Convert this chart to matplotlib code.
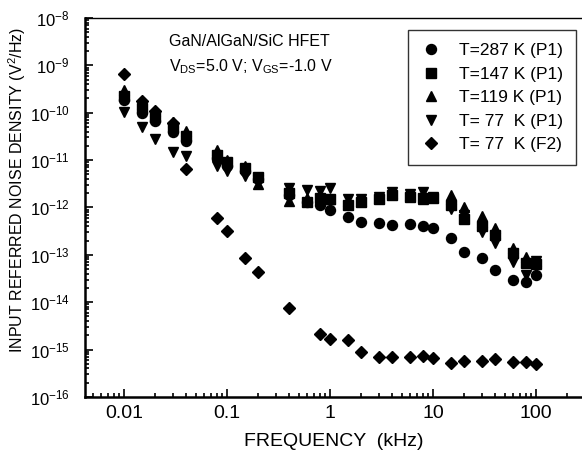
import matplotlib
matplotlib.use("Agg")
import matplotlib.pyplot as plt
from matplotlib.ticker import LogLocator, NullFormatter

plt.rcParams["font.family"] = ["Liberation Sans", "DejaVu Sans"]
plt.rcParams["mathtext.fontset"] = "custom"
plt.rcParams["mathtext.rm"] = "Liberation Sans"
plt.rcParams["mathtext.it"] = "Liberation Sans:italic"

# ─── DATA ───

FREQ_P1 = [0.01, 0.015, 0.02, 0.03, 0.04, 0.08, 0.1, 0.15, 0.2, 0.4, 0.6, 0.8, 1, 1.5, 2,
           3, 4, 6, 8, 10, 15, 20, 30, 40, 60, 80, 100]

T287_P1 = [1.9e-10, 1.0e-10, 6.7e-11, 4.0e-11, 2.5e-11, 1.1e-11, 7.5e-12, 5.9e-12, 4.0e-12,
           1.8e-12, 1.3e-12, 1.1e-12, 9.0e-13, 6.3e-13, 5.0e-13, 4.8e-13, 4.3e-13, 4.4e-13,
           4.0e-13, 3.6e-13, 2.3e-13, 1.15e-13, 8.7e-14, 4.8e-14, 3.0e-14, 2.6e-14, 3.7e-14]

T147_P1 = [2.3e-10, 1.25e-10, 8.2e-11, 5.0e-11, 3.2e-11, 1.3e-11, 9.0e-12, 6.9e-12, 4.5e-12,
           2.0e-12, 1.3e-12, 1.6e-12, 1.5e-12, 1.1e-12, 1.3e-12, 1.5e-12, 1.8e-12, 1.7e-12,
           1.6e-12, 1.6e-12, 1.1e-12, 5.8e-13, 4.1e-13, 2.6e-13, 1.1e-13, 6.8e-14, 6.3e-14]

T119_P1 = [3.0e-10, 1.5e-10, 1.1e-10, 6.4e-11, 4.1e-11, 1.6e-11, 1.0e-11, 7.5e-12, 3.2e-12,
           1.4e-12, 1.6e-12, 1.5e-12, 1.5e-12, 1.4e-12, 1.4e-12, 1.6e-12, 2.0e-12, 1.8e-12,
           1.5e-12, 1.7e-12, 1.8e-12, 1.0e-12, 6.6e-13, 3.6e-13, 1.4e-13, 9.0e-14, 7.5e-14]

T77_P1 = [1.05e-10, 5.0e-11, 2.8e-11, 1.5e-11, 1.2e-11, 7.6e-12, 5.9e-12, 4.7e-12, 3.8e-12,
          2.6e-12, 2.3e-12, 2.2e-12, 2.6e-12, 1.5e-12, 1.5e-12, 1.7e-12, 2.1e-12, 1.9e-12,
          2.1e-12, 1.7e-12, 9.3e-13, 7.0e-13, 3.1e-13, 1.8e-13, 7.0e-14, 3.8e-14, 7.5e-14]

FREQ_F2 = [0.01, 0.015, 0.02, 0.03, 0.04, 0.08, 0.1, 0.15, 0.2, 0.4, 0.8, 1, 1.5, 2, 3, 4,
           6, 8, 10, 15, 20, 30, 40, 60, 80, 100]

T77_F2 = [6.5e-10, 1.8e-10, 1.1e-10, 6.0e-11, 6.5e-12, 6.0e-13, 3.2e-13, 8.7e-14, 4.4e-14,
          7.6e-15, 2.1e-15, 1.7e-15, 1.55e-15, 8.9e-16, 7.1e-16, 7.0e-16, 6.8e-16, 7.2e-16,
          6.6e-16, 5.3e-16, 5.8e-16, 5.8e-16, 6.3e-16, 5.5e-16, 5.5e-16, 5.0e-16]

SERIES = [
    ("T=287 K (P1)", FREQ_P1, T287_P1, "o", 7.2),
    ("T=147 K (P1)", FREQ_P1, T147_P1, "s", 6.5),
    ("T=119 K (P1)", FREQ_P1, T119_P1, "^", 7.5),
    ("T= 77  K (P1)", FREQ_P1, T77_P1, "v", 7.5),
    ("T= 77  K (F2)", FREQ_F2, T77_F2, "D", 6.0),
]


# ─── FIGURE ───

fig = plt.figure(figsize=(5.82, 4.62), dpi=100)
ax = fig.add_axes([0.146, 0.141, 0.854, 0.820])

for label, freq, vals, marker, size in SERIES:
    ax.plot(freq, vals, linestyle="none", marker=marker, markersize=size,
            color="black", markeredgecolor="black", label=label)

ax.set_xscale("log")
ax.set_yscale("log")
ax.set_xlim(0.0042, 280)
ax.set_ylim(1e-16, 1e-8)

ax.set_xticks([0.01, 0.1, 1, 10, 100])
ax.set_xticklabels(["0.01", "0.1", "1", "10", "100"])
ax.xaxis.set_minor_locator(LogLocator(base=10, subs=range(2, 10), numticks=20))
ax.xaxis.set_minor_formatter(NullFormatter())
ax.yaxis.set_major_locator(LogLocator(base=10, numticks=20))
ax.yaxis.set_minor_locator(LogLocator(base=10, subs=range(2, 10), numticks=20))
ax.yaxis.set_minor_formatter(NullFormatter())

ax.tick_params(which="both", direction="in", top=False, right=False, width=1.2)
ax.tick_params(which="major", length=6)
ax.tick_params(which="minor", length=3)
ax.tick_params(axis="x", which="major", labelsize=14, pad=6)
ax.tick_params(axis="y", which="major", labelsize=12, pad=11)

for side in ["left", "bottom"]:
    ax.spines[side].set_linewidth(1.8)
ax.spines["top"].set_linewidth(1.0)
ax.spines["right"].set_visible(False)

ax.set_xlabel("FREQUENCY  (kHz)", fontsize=14, labelpad=8)
ax.set_ylabel("INPUT REFERRED NOISE DENSITY (V$^2$/Hz)", fontsize=11.5)
ax.yaxis.set_label_coords(-0.115, 0.546)

ax.text(0.17, 0.925, "GaN/AlGaN/SiC HFET", transform=ax.transAxes, fontsize=11.5)
ax.text(0.17, 0.86, "V$_{\\mathrm{DS}}$=5.0 V; V$_{\\mathrm{GS}}$=-1.0 V",
        transform=ax.transAxes, fontsize=11.5)

leg = ax.legend(loc="upper right", bbox_to_anchor=(0.988, 0.968), borderaxespad=0,
                fontsize=12.5, frameon=True, fancybox=False, handletextpad=1.0,
                labelspacing=0.48, borderpad=0.75, handlelength=1.2)
leg.get_frame().set_edgecolor("black")
leg.get_frame().set_linewidth(1.0)

fig.savefig("out.png", dpi=100)
